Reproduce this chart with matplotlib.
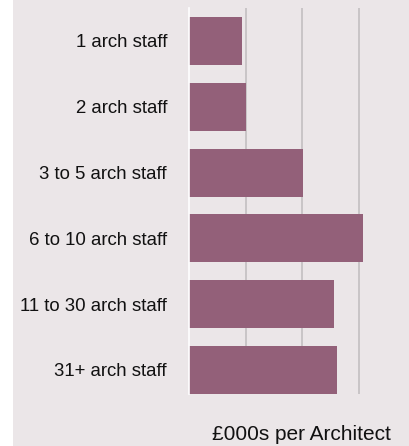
import numpy as np
import matplotlib.pyplot as plt
from matplotlib.patches import Rectangle

plt.rcParams['font.family'] = ['Liberation Sans', 'DejaVu Sans']

# practice size bands and income per architect (£000s)
categories = ['1 arch staff', '2 arch staff', '3 to 5 arch staff',
              '6 to 10 arch staff', '11 to 30 arch staff', '31+ arch staff']
income = [18.7, 20.0, 40.2, 61.4, 51.2, 52.2]
grid_ticks = [20, 40, 60]

bg = '#ebe6e8'
bar_col = '#936079'

fig = plt.figure(figsize=(4.10, 4.46), dpi=100, facecolor='white')
# grey panel behind everything, leaving a thin white strip on the left
fig.patches.append(Rectangle((13 / 410, 0), 1, 1, transform=fig.transFigure,
                             facecolor=bg, edgecolor='none', zorder=-10))

ax = fig.add_axes([189.3 / 410, 1 - 394.3 / 446, 1 - 189.3 / 410, (394.3 - 8) / 446])
ax.set_zorder(1)
ax.set_facecolor(bg)

y = np.arange(len(categories))
ax.barh(y, income, height=0.73, color=bar_col, zorder=3)

ax.set_xlim(0, 78.2)
ax.set_ylim(5.37, -0.5)
ax.set_xticks(grid_ticks)
ax.set_xticklabels([])
ax.set_yticks(y)
ax.set_yticklabels(categories, fontsize=13.4, color='#111111')
ax.tick_params(axis='y', length=0, pad=16)
ax.tick_params(axis='x', length=0)
ax.grid(axis='x', color='#c3bfc1', linewidth=1.2, zorder=1)
ax.set_axisbelow(True)

for s in ['top', 'right', 'bottom']:
    ax.spines[s].set_visible(False)
ax.spines['left'].set_color('white')
ax.spines['left'].set_linewidth(1.2)
ax.spines['left'].set_zorder(4)

fig.text(301 / 410, 1 - 434 / 446, '£000s per Architect', fontsize=15,
         ha='center', va='center', color='#111111')

fig.savefig('out.png', dpi=100, facecolor='white')
